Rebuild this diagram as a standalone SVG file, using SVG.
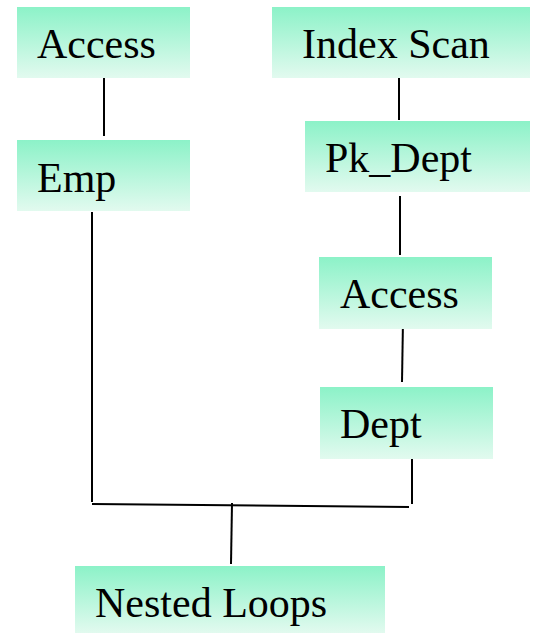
<svg xmlns="http://www.w3.org/2000/svg" width="544" height="633" viewBox="0 0 544 633">
  <defs>
    <linearGradient id="mint" x1="0" y1="0" x2="0" y2="1">
      <stop offset="0" stop-color="#8cf2c8"/>
      <stop offset="1" stop-color="#e2faef"/>
    </linearGradient>
  </defs>
  <style>
    .box { fill: url(#mint); }
    .label { font-size: 42px; fill: #000; }
    .wire { stroke: #000; stroke-width: 2; fill: none; }
  </style>
  <rect width="544" height="633" fill="#fff"/>

  <g id="connectors">
    <line class="wire" x1="104" y1="77" x2="104" y2="136"/>
    <line class="wire" x1="399" y1="65" x2="399" y2="120"/>
    <line class="wire" x1="400" y1="196" x2="400" y2="255"/>
    <line class="wire" x1="403" y1="320" x2="402" y2="382"/>
    <line class="wire" x1="92" y1="212" x2="92" y2="502"/>
    <line class="wire" x1="412" y1="459" x2="412" y2="504"/>
    <line class="wire" x1="92" y1="504" x2="409" y2="507"/>
    <line class="wire" x1="232" y1="503" x2="231" y2="564"/>
  </g>

  <g id="access-emp" font-family="Liberation Serif, DejaVu Serif, serif">
    <rect class="box" x="17" y="7" width="173" height="71"/>
    <text class="label" x="37" y="58">Access</text>
  </g>
  <g id="emp" font-family="Liberation Serif, DejaVu Serif, serif">
    <rect class="box" x="17" y="140" width="173" height="71"/>
    <text class="label" x="37" y="192">Emp</text>
  </g>
  <g id="index-scan" font-family="Liberation Serif, DejaVu Serif, serif">
    <rect class="box" x="272" y="7" width="258" height="71"/>
    <text class="label" x="302" y="58">Index Scan</text>
  </g>
  <g id="pk-dept" font-family="Liberation Serif, DejaVu Serif, serif">
    <rect class="box" x="305" y="121" width="225" height="71"/>
    <text class="label" x="325" y="172">Pk_Dept</text>
  </g>
  <g id="access-dept" font-family="Liberation Serif, DejaVu Serif, serif">
    <rect class="box" x="319" y="257" width="173" height="72"/>
    <text class="label" x="340" y="308">Access</text>
  </g>
  <g id="dept" font-family="Liberation Serif, DejaVu Serif, serif">
    <rect class="box" x="320" y="387" width="173" height="72"/>
    <text class="label" x="340" y="438">Dept</text>
  </g>
  <g id="nested-loops" font-family="Liberation Serif, DejaVu Serif, serif">
    <rect class="box" x="75" y="566" width="310" height="67"/>
    <text class="label" x="95" y="617">Nested Loops</text>
  </g>
</svg>
